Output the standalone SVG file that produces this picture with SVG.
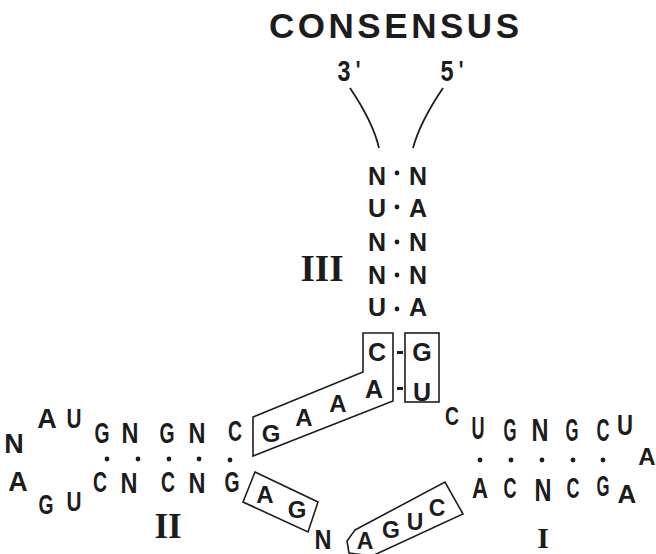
<svg xmlns="http://www.w3.org/2000/svg" width="656" height="554" viewBox="0 0 656 554">
<style>
  text { font-family: "Liberation Sans", Arial, sans-serif; fill: #1c1c1c; text-anchor: middle; font-weight: bold; }
  .ser { font-family: "Liberation Serif", "Times New Roman", serif; font-weight: bold; }
  .s25 { font-size: 25px; }
  .s29 { font-size: 29px; }
  .s27 { font-size: 27px; }
  .s23 { font-size: 23px; }
  .box { fill: none; stroke: #1c1c1c; stroke-width: 1.6; stroke-linejoin: miter; }
  .line { fill: none; stroke: #1c1c1c; stroke-width: 1.8; }
  .dot { fill: #1c1c1c; }
</style>
<rect width="656" height="554" fill="#ffffff"/>

<g id="title">
  <text x="269" y="38" style="font-size:35px;text-anchor:start" textLength="250" lengthAdjust="spacing">CONSENSUS</text>
  <text x="344" y="81" style="font-size:30px" textLength="13" lengthAdjust="spacingAndGlyphs">3</text>
  <text x="358" y="81" style="font-size:30px;font-weight:normal">'</text>
  <text x="447" y="81" style="font-size:30px" textLength="13" lengthAdjust="spacingAndGlyphs">5</text>
  <text x="461" y="81" style="font-size:30px;font-weight:normal">'</text>
</g>

<g id="connectors">
  <path class="line" d="M350,88 Q373,122 379,148"/>
  <path class="line" d="M443,88 Q420,122 413,148"/>
</g>

<g id="stem-III">
  <text class="s25" x="377" y="185">N</text><circle class="dot" cx="397" cy="173" r="2.4"/><text class="s25" x="418" y="185">N</text>
  <text class="s25" x="377" y="217">U</text><circle class="dot" cx="397" cy="207" r="2.4"/><text class="s25" x="418" y="217">A</text>
  <text class="s25" x="377" y="251">N</text><circle class="dot" cx="397" cy="242" r="2.4"/><text class="s25" x="418" y="251">N</text>
  <text class="s25" x="377" y="284">N</text><circle class="dot" cx="397" cy="275" r="2.4"/><text class="s25" x="418" y="284">N</text>
  <text class="s25" x="377" y="316">U</text><circle class="dot" cx="397" cy="309" r="2.4"/><text class="s25" x="418" y="316">A</text>
  <text class="ser" x="322" y="281" style="font-size:37px">III</text>
</g>

<g id="core-boxes">
  <polygon class="box" points="363,333 393,333 393,401 253,456 253,417 363,372"/>
  <rect class="box" x="405" y="333" width="34" height="69"/>
  <text class="s25" x="377" y="361">C</text>
  <text class="s25" x="422" y="361">G</text>
  <text class="s25" x="374" y="398">A</text>
  <text class="s25" x="422" y="401">U</text>
  <rect class="dot" x="397" y="351" width="6" height="3"/>
  <rect class="dot" x="397" y="387" width="6" height="3"/>
  <text style="font-size:24px" x="338" y="412">A</text>
  <text style="font-size:24px" x="304" y="426">A</text>
  <text style="font-size:24px" x="271" y="442">G</text>
</g>

<g id="helix-II">
  <text class="s27" x="14" y="453">N</text>
  <text class="s27" x="47" y="428">A</text>
  <text class="s27" x="74" y="428" textLength="15" lengthAdjust="spacingAndGlyphs">U</text>
  <text class="s27" x="18" y="491">A</text>
  <text class="s27" x="46" y="514" textLength="15" lengthAdjust="spacingAndGlyphs">G</text>
  <text class="s27" x="74" y="511" textLength="15" lengthAdjust="spacingAndGlyphs">U</text>
  <text class="s29" x="102" y="443" textLength="15" lengthAdjust="spacingAndGlyphs">G</text>
  <text class="s29" x="130" y="443" textLength="17" lengthAdjust="spacingAndGlyphs">N</text>
  <text class="s29" x="167" y="443" textLength="15" lengthAdjust="spacingAndGlyphs">G</text>
  <text class="s29" x="197" y="443" textLength="17" lengthAdjust="spacingAndGlyphs">N</text>
  <text class="s29" x="235" y="441" textLength="14" lengthAdjust="spacingAndGlyphs">C</text>
  <circle class="dot" cx="107" cy="459" r="2.4"/>
  <circle class="dot" cx="138" cy="459" r="2.4"/>
  <circle class="dot" cx="169" cy="459" r="2.4"/>
  <circle class="dot" cx="199" cy="459" r="2.4"/>
  <circle class="dot" cx="230" cy="460" r="2.4"/>
  <text class="s29" x="100" y="492" textLength="14" lengthAdjust="spacingAndGlyphs">C</text>
  <text class="s29" x="129" y="493" textLength="17" lengthAdjust="spacingAndGlyphs">N</text>
  <text class="s29" x="168" y="492" textLength="14" lengthAdjust="spacingAndGlyphs">C</text>
  <text class="s29" x="197" y="493" textLength="17" lengthAdjust="spacingAndGlyphs">N</text>
  <text class="s29" x="232" y="492" textLength="15" lengthAdjust="spacingAndGlyphs">G</text>
  <text class="ser" x="168" y="538" style="font-size:35px">II</text>
</g>

<g id="loop-boxes">
  <polygon class="box" points="255,472 318,502 308,532 243,502"/>
  <text style="font-size:24px" x="265" y="503">A</text>
  <text style="font-size:24px" x="297" y="518">G</text>
  <text x="323" y="549" style="font-size:27px" textLength="17" lengthAdjust="spacingAndGlyphs">N</text>
  <polygon class="box" points="355,530 445,482 463,514 372,556 349,553 347,541"/>
  <text class="s23" x="365" y="549">A</text>
  <text class="s23" x="391" y="538">G</text>
  <text class="s23" x="415" y="530">U</text>
  <text class="s23" x="437" y="516">C</text>
</g>

<g id="helix-I">
  <text class="s25" x="452" y="425" textLength="14" lengthAdjust="spacingAndGlyphs">C</text>
  <text style="font-size:31px" x="478" y="439" textLength="13" lengthAdjust="spacingAndGlyphs">U</text>
  <text style="font-size:31px" x="510" y="441" textLength="13" lengthAdjust="spacingAndGlyphs">G</text>
  <text style="font-size:31px" x="540" y="441" textLength="17" lengthAdjust="spacingAndGlyphs">N</text>
  <text style="font-size:31px" x="572" y="441" textLength="13" lengthAdjust="spacingAndGlyphs">G</text>
  <text style="font-size:31px" x="603" y="441" textLength="13" lengthAdjust="spacingAndGlyphs">C</text>
  <text style="font-size:29px" x="625" y="435" textLength="16" lengthAdjust="spacingAndGlyphs">U</text>
  <text style="font-size:24px" x="647" y="465">A</text>
  <circle class="dot" cx="480" cy="460" r="2.4"/>
  <circle class="dot" cx="511" cy="460" r="2.4"/>
  <circle class="dot" cx="542" cy="460" r="2.4"/>
  <circle class="dot" cx="573" cy="460" r="2.4"/>
  <circle class="dot" cx="603" cy="460" r="2.4"/>
  <text class="s29" x="480" y="498" textLength="16" lengthAdjust="spacingAndGlyphs">A</text>
  <text class="s29" x="510" y="498" textLength="13" lengthAdjust="spacingAndGlyphs">C</text>
  <text style="font-size:31px" x="543" y="501" textLength="17" lengthAdjust="spacingAndGlyphs">N</text>
  <text class="s29" x="573" y="498" textLength="13" lengthAdjust="spacingAndGlyphs">C</text>
  <text class="s29" x="603" y="496" textLength="13" lengthAdjust="spacingAndGlyphs">G</text>
  <text style="font-size:26px" x="627" y="503">A</text>
  <text class="ser" x="543" y="548" style="font-size:30px">I</text>
</g>
</svg>
